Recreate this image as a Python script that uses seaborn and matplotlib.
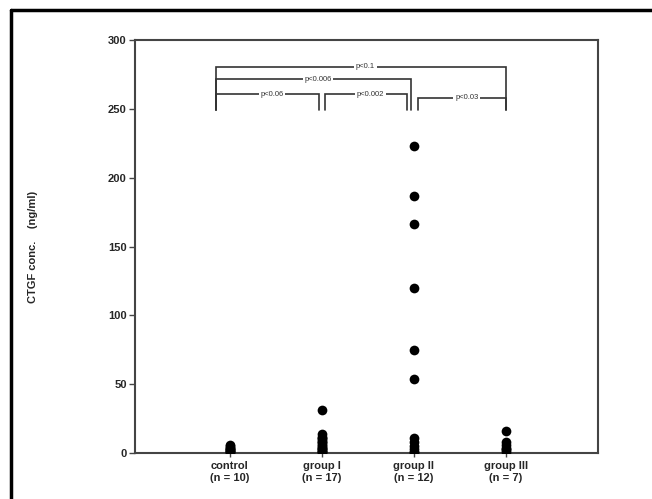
import pandas as pd
import matplotlib
matplotlib.use("Agg")
import matplotlib.pyplot as plt
import seaborn as sns
from matplotlib.lines import Line2D

# values (ng/ml)
groups = ["control\n(n = 10)", "group I\n(n = 17)", "group II\n(n = 12)", "group III\n(n = 7)"]
control = [0.5, 1, 1.5, 2, 2.5, 3, 3.5, 4, 5, 6]
group_1 = [31, 14, 12, 11, 10, 9, 8, 7, 6, 5, 4, 3.5, 3, 2, 1.5, 1, 0.5]
group_2 = [223, 187, 166, 120, 75, 54, 11, 8, 5, 3, 1, 0.5]
group_3 = [16, 8, 6, 4, 3, 2, 1]

# significance brackets: (left, right, level, label)
brackets = [
    (-0.15, 3.0, 280.5, "p<0.1"),
    (-0.15, 1.97, 271.5, "p<0.006"),
    (-0.15, 0.97, 260.5, "p<0.06"),
    (1.03, 1.93, 260.5, "p<0.002"),
    (2.05, 3.0, 258.0, "p<0.03"),
]
leg_bottom = 249

df = pd.DataFrame({
    "group": [groups[0]] * len(control) + [groups[1]] * len(group_1)
             + [groups[2]] * len(group_2) + [groups[3]] * len(group_3),
    "conc": control + group_1 + group_2 + group_3,
})

sns.set_style("white")
plt.rcParams["font.family"] = ["Liberation Sans", "DejaVu Sans"]

fig = plt.figure(figsize=(6.52, 4.99), dpi=100)
ax = fig.add_axes([0.207, 0.092, 0.71, 0.828])

sns.stripplot(data=df, x="group", y="conc", order=groups, jitter=False,
              color="black", size=7, linewidth=0, ax=ax)

ax.set_xlim(-1.03, 4.0)
ax.set_ylim(0, 300)
ax.set_yticks(range(0, 301, 50))
ax.set_xlabel("")
ax.set_ylabel("CTGF conc.    (ng/ml)", fontsize=8, fontweight="bold", labelpad=50)
ax.tick_params(axis="y", direction="out", length=4, width=1, color="#444444",
               labelsize=8, pad=2, left=True)
ax.tick_params(axis="x", direction="out", length=3, width=1, color="#444444",
               labelsize=8, pad=3, bottom=True)
for lbl in ax.get_xticklabels() + ax.get_yticklabels():
    lbl.set_fontweight("bold")
for sp in ax.spines.values():
    sp.set_visible(True)
    sp.set_color("#444444")
    sp.set_linewidth(1.5)

for x0, x1, lvl, label in brackets:
    ax.plot([x0, x0, x1, x1], [leg_bottom, lvl, lvl, leg_bottom],
            color="#333333", lw=1.2, solid_joinstyle="miter")
    ax.text((x0 + x1) / 2 + 0.05, lvl, label, fontsize=5.5, ha="center", va="center",
            color="#333333", bbox=dict(facecolor="white", edgecolor="none", pad=1.2))

# outer frame of the scanned page
fig.add_artist(Line2D([11 / 652, 11 / 652], [0, 1 - 10 / 499], color="black", lw=2.5,
                      transform=fig.transFigure))
fig.add_artist(Line2D([11 / 652, 1], [1 - 10 / 499, 1 - 10 / 499], color="black", lw=2.5,
                      transform=fig.transFigure))

fig.savefig("out.png", dpi=100)
